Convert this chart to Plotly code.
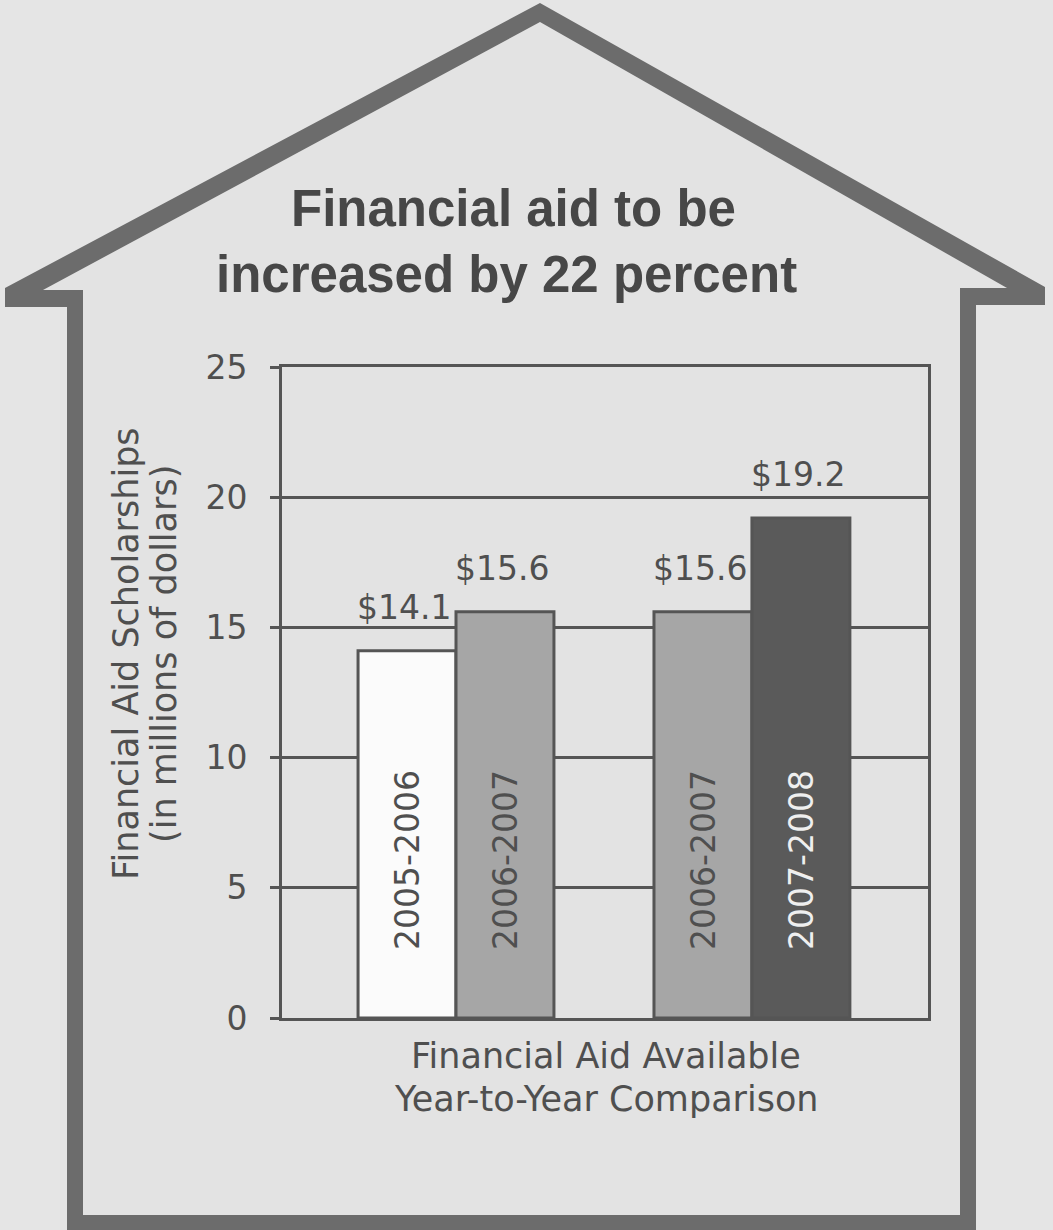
import plotly.graph_objects as go

# ---------------- data ----------------
groups = ["2005-06 vs 2006-07", "2006-07 vs 2007-08"]
left_periods = ["2005-2006", "2006-2007"]
left_values = [14.1, 15.6]
right_periods = ["2006-2007", "2007-2008"]
right_values = [15.6, 19.2]
y_ticks = [0, 5, 10, 15, 20, 25]

title_lines = ["Financial aid to be", "increased by 22 percent"]
y_title_lines = ["Financial Aid Scholarships", "(in millions of dollars)"]
x_title_lines = ["Financial Aid Available", "Year-to-Year Comparison"]

# ---------------- style ----------------
W, H = 1053, 1230
TXT = "#4f4f4f"
LINE = "#555555"
period_fill = {"2005-2006": "#fbfbfb", "2006-2007": "#a6a6a6", "2007-2008": "#5a5a5a"}
period_text = {"2005-2006": "#4f4f4f", "2006-2007": "#4f4f4f", "2007-2008": "#efefef"}
FONT = "DejaVu Sans"


def X(px):
    return px / W


def Y(py):
    return 1 - py / H


def path(points):
    return "M " + " L ".join(f"{X(a):.5f},{Y(b):.5f}" for a, b in points) + " Z"


fig = go.Figure()

fig.add_trace(go.Bar(
    x=groups, y=left_values, name="earlier",
    marker=dict(color=[period_fill[p] for p in left_periods],
                line=dict(color=LINE, width=3)),
    showlegend=False, hoverinfo="skip",
))
fig.add_trace(go.Bar(
    x=groups, y=right_values, name="later",
    marker=dict(color=[period_fill[p] for p in right_periods],
                line=dict(color=LINE, width=3)),
    showlegend=False, hoverinfo="skip",
))

# house outline (background decoration)
outer = [(540, 3), (1045, 287), (1045, 305), (976, 305), (976, 1232),
         (67, 1232), (67, 307), (5, 307), (5, 288)]
inner = [(540, 22), (1007, 288), (960, 288), (960, 1215), (83, 1215),
         (83, 290), (43, 290)]
shapes = [
    dict(type="path", xref="paper", yref="paper", path=path(outer),
         fillcolor="#6c6c6c", line=dict(width=0), layer="below"),
    dict(type="path", xref="paper", yref="paper", path=path(inner),
         fillcolor="#e3e3e3", line=dict(width=0), layer="below"),
]

annotations = []
# title
title_fs = 51
for line, (cx, base) in zip(title_lines, [(513, 226), (506, 292)]):
    annotations.append(dict(
        text=f"<b>{line}</b>", xref="paper", yref="paper",
        x=X(cx), y=Y(base - 0.35 * title_fs), xanchor="center", yanchor="middle",
        showarrow=False, font=dict(family="Liberation Sans", size=title_fs, color="#474747"),
    ))

# y-axis title (two rotated lines)
yfs = 35
for line, cx in zip(y_title_lines, [126, 164]):
    annotations.append(dict(
        text=line, xref="paper", yref="paper", x=X(cx), y=Y(654),
        xanchor="center", yanchor="middle", textangle=-90, showarrow=False,
        font=dict(family=FONT, size=yfs, color=TXT),
    ))

# x-axis title (two lines)
xfs = 35
for line, base in zip(x_title_lines, [1068, 1111]):
    annotations.append(dict(
        text=line, xref="paper", yref="paper", x=X(606), y=Y(base - 0.35 * xfs),
        xanchor="center", yanchor="middle", showarrow=False,
        font=dict(family=FONT, size=xfs, color=TXT),
    ))

# value labels and in-bar period labels
shift = 49
for side, periods, values in [(-1, left_periods, left_values), (1, right_periods, right_values)]:
    for g, p, v in zip(groups, periods, values):
        annotations.append(dict(
            text=f"${v:.1f}", x=g, y=v, xref="x", yref="y",
            xshift=side * shift - 3, yshift=22, xanchor="center", yanchor="bottom",
            showarrow=False, font=dict(family=FONT, size=33, color=TXT),
        ))
        annotations.append(dict(
            text=p, x=g, y=0, xref="x", yref="y",
            xshift=side * shift, yshift=66, xanchor="center", yanchor="bottom",
            textangle=-90, showarrow=False,
            font=dict(family=FONT, size=33, color=period_text[p]),
        ))

fig.update_layout(
    width=W, height=H,
    margin=dict(l=0, r=0, t=0, b=0, pad=0, autoexpand=False),
    paper_bgcolor="#e5e5e5",
    plot_bgcolor="#d9d9d9",
    barmode="group", bargap=0.338, bargroupgap=0,
    shapes=shapes, annotations=annotations,
    font=dict(family=FONT, color=TXT),
    xaxis=dict(
        domain=[X(282), X(928)], type="category", range=[-0.588, 1.595],
        showticklabels=False, ticks="", showgrid=False, zeroline=False, automargin=False,
        showline=True, linecolor=LINE, linewidth=3, mirror=True, fixedrange=True,
    ),
    yaxis=dict(
        domain=[Y(1018), Y(367)], range=[0, 25], tickvals=y_ticks, automargin=False,
        ticks="outside", ticklen=9, tickwidth=3, tickcolor=LINE,
        ticklabelstandoff=16,
        tickfont=dict(family=FONT, size=33, color=TXT),
        showgrid=True, gridcolor=LINE, gridwidth=3, zeroline=False,
        showline=True, linecolor=LINE, linewidth=3, mirror=True, fixedrange=True,
    ),
)

fig.write_html(
    "out.html",
    config={"displayModeBar": False},
    post_script="document.body.style.margin='0';document.body.style.overflow='hidden';",
)
